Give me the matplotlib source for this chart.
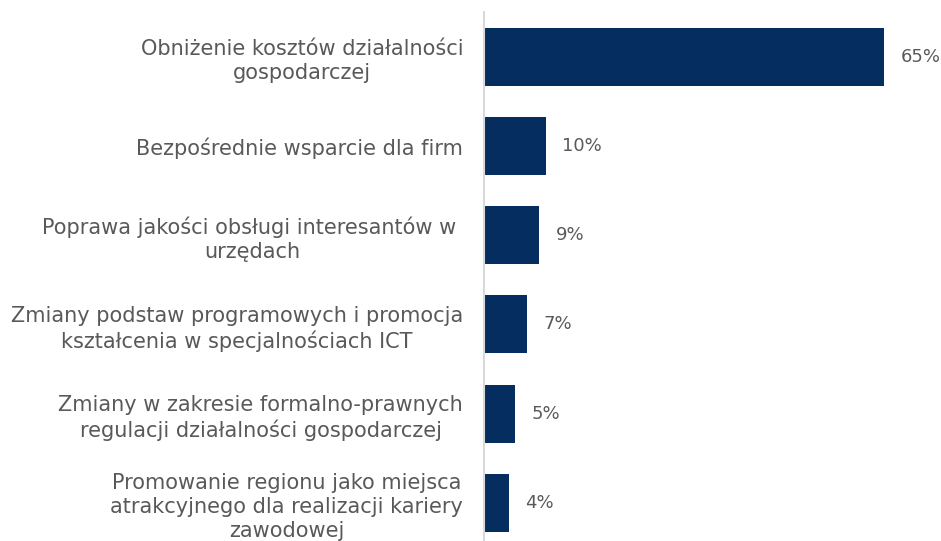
import numpy as np
import matplotlib
matplotlib.use("Agg")
import matplotlib.pyplot as plt

BAR_COLOR  = "#062D5F"   # dark navy
TEXT_COLOR = "#595959"   # grey labels
AXIS_COLOR = "#D9D9D9"

categories = [
    "Obniżenie kosztów działalności\ngospodarczej",
    "Bezpośrednie wsparcie dla firm",
    "Poprawa jakości obsługi interesantów w \nurzędach",
    "Zmiany podstaw programowych i promocja\nkształcenia w specjalnościach ICT",
    "Zmiany w zakresie formalno-prawnych\nregulacji działalności gospodarczej",
    "Promowanie regionu jako miejsca\natrakcyjnego dla realizacji kariery\nzawodowej",
]
values = [65, 10, 9, 7, 5, 4]

W, H = 941, 541
fig = plt.figure(figsize=(W / 100, H / 100), dpi=100)
# axes from the vertical axis line to the right edge
ax = fig.add_axes([484 / W, -6.6 / H, (W - 484) / W, (H - 12 + 6.6) / H])

y = np.arange(len(categories))
ax.barh(y, values, height=0.65, color=BAR_COLOR)

for yi, v in zip(y, values):
    ax.annotate(f"{v}%", (v, yi), xytext=(12, 0), textcoords="offset points",
                ha="left", va="center", fontsize=13, color=TEXT_COLOR)

ax.set_ylim(len(categories) - 0.5, -0.5)
ax.set_xlim(0, (W - 484) / 6.154)

ax.set_yticks(y)
ax.set_yticklabels(categories, fontsize=15, color=TEXT_COLOR)
for lbl in ax.get_yticklabels():
    lbl.set_multialignment("center")
    lbl.set_linespacing(1.25)
ax.tick_params(axis="y", length=0, pad=15)
ax.set_xticks([])

for s in ["top", "right", "bottom"]:
    ax.spines[s].set_visible(False)
ax.spines["left"].set_color(AXIS_COLOR)
ax.spines["left"].set_linewidth(1.5)

fig.savefig("out.png", dpi=100)
